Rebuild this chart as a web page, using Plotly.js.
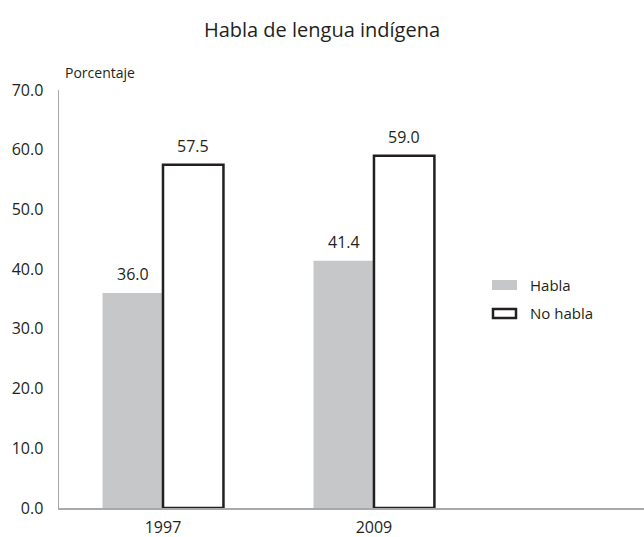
<!DOCTYPE html>
<html><head><meta charset="utf-8">
<script src="https://cdn.plot.ly/plotly-3.0.1.min.js"></script>
<style>html,body{margin:0;padding:0;background:#fff}#chart{width:644px;height:537px}</style>
</head><body><div id="chart"></div>
<script>
const categories = ["1997", "2009"];
const seriesNames = ["Habla", "No habla"];
const habla = [36.0, 41.4];
const noHabla = [57.5, 59.0];
const yTicks = [0, 10, 20, 30, 40, 50, 60, 70];
const yTickLabels = ["0.0", "10.0", "20.0", "30.0", "40.0", "50.0", "60.0", "70.0"];

const FONT = "Open Sans, Noto Sans, sans-serif";
const txt = "#231f20";

const traces = [
  {type: "bar", name: seriesNames[0], x: categories, y: habla,
   marker: {color: "#c6c7c9", line: {width: 0}}, showlegend: false, hoverinfo: "none"},
  {type: "bar", name: seriesNames[1], x: categories, y: noHabla,
   marker: {color: "#ffffff", line: {color: txt, width: 2.5}}, showlegend: false, hoverinfo: "none"}
];

const W = 644, H = 537, L = 59, R = 0, T = 90, B = 29;
const pw = W - L - R, ph = H - T - B;
const px = x => (x - L) / pw;
const py = y => (H - B - y) / ph;

const annotations = [];
const offsets = [-0.5, 0.5];
[habla, noHabla].forEach((vals, s) => {
  vals.forEach((v, i) => {
    annotations.push({x: i, xref: "x", y: v, yref: "y", text: v.toFixed(1),
      showarrow: false, yanchor: "bottom", yshift: 6, xshift: offsets[s] * 60.5,
      font: {family: FONT, size: 16, color: txt}});
  });
});
annotations.push({x: px(63), xref: "paper", y: py(72), yref: "paper", text: "Porcentaje", showarrow: false,
  xanchor: "left", yanchor: "middle", font: {family: FONT, size: 14, color: txt}});

const legendItems = [
  {name: seriesNames[0], y: 285},
  {name: seriesNames[1], y: 313}
];
const shapes = [];
shapes.push({type: "rect", xref: "paper", yref: "paper", x0: px(492), x1: px(517), y0: py(290), y1: py(280),
  fillcolor: "#c6c7c9", line: {width: 0}});
shapes.push({type: "rect", xref: "paper", yref: "paper", x0: px(493), x1: px(516), y0: py(318), y1: py(309),
  fillcolor: "#ffffff", line: {color: txt, width: 2.5}});
legendItems.forEach(it => {
  annotations.push({x: px(528), xref: "paper", y: py(it.y), yref: "paper", text: it.name,
    showarrow: false, xanchor: "left", yanchor: "middle", font: {family: FONT, size: 15, color: txt}});
});

const layout = {
  width: W, height: H,
  margin: {l: L, r: R, t: T, b: B, pad: 0},
  paper_bgcolor: "#fff", plot_bgcolor: "#fff",
  title: {text: "Habla de lengua indígena", x: 0.5, xref: "container", xanchor: "center",
    y: 1 - 30 / H, yref: "container", yanchor: "middle",
    font: {family: FONT, size: 20, color: txt}},
  barmode: "group", bargap: 0.427, bargroupgap: 0,
  showlegend: false,
  xaxis: {type: "category", range: [-0.493, 2.28], showgrid: false, zeroline: false,
    showline: true, linecolor: "#a7a9ac", linewidth: 1.5, ticks: "", ticklabelstandoff: 4,
    tickfont: {family: FONT, size: 16, color: txt}, fixedrange: true},
  yaxis: {range: [0, 70], tickvals: yTicks, ticktext: yTickLabels, showgrid: false, zeroline: false,
    showline: true, linecolor: "#a7a9ac", linewidth: 1.5, ticks: "", ticklabelstandoff: 11,
    tickfont: {family: FONT, size: 16, color: txt}, fixedrange: true},
  annotations: annotations,
  shapes: shapes
};

Plotly.newPlot("chart", traces, layout, {displayModeBar: false, staticPlot: true});
</script></body></html>
